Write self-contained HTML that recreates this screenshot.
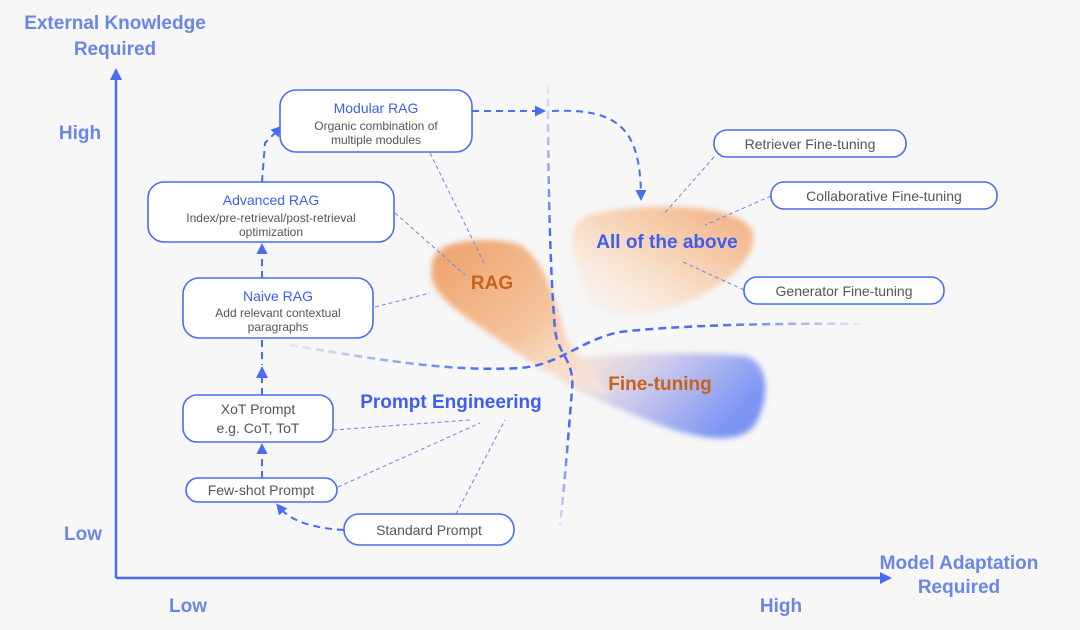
<!DOCTYPE html>
<html><head><meta charset="utf-8"><style>
html,body{margin:0;padding:0;background:#f7f7f8;}
svg{display:block;font-family:"Liberation Sans",sans-serif;}
</style></head><body>
<svg width="1080" height="630" viewBox="0 0 1080 630" xmlns="http://www.w3.org/2000/svg">
<defs>
<filter id="blur" x="-20%" y="-20%" width="140%" height="140%"><feGaussianBlur stdDeviation="3"/></filter>
<linearGradient id="rag" x1="0" y1="0" x2="1" y2="1">
<stop offset="0" stop-color="#eea06a"/><stop offset="0.55" stop-color="#f5c49c"/><stop offset="1" stop-color="#fbeee2" stop-opacity="0.6"/></linearGradient>
<linearGradient id="ft" x1="0" y1="0" x2="1" y2="0.4">
<stop offset="0" stop-color="#f7d9bd" stop-opacity="0.4"/><stop offset="0.5" stop-color="#c9c8ee"/><stop offset="1" stop-color="#7c95f3"/></linearGradient>
<linearGradient id="all" x1="1" y1="0" x2="0" y2="1">
<stop offset="0" stop-color="#f1ad7f"/><stop offset="0.5" stop-color="#f8d8bd"/><stop offset="1" stop-color="#fbf1e8" stop-opacity="0.3"/></linearGradient>
<linearGradient id="hfade" x1="0" y1="0" x2="1" y2="0">
<stop offset="0" stop-color="#4a6cf2" stop-opacity="0.1"/><stop offset="0.35" stop-color="#4a6cf2"/><stop offset="0.75" stop-color="#4a6cf2"/><stop offset="1" stop-color="#4a6cf2" stop-opacity="0.1"/></linearGradient>
<linearGradient id="vfade" x1="0" y1="0" x2="0" y2="1">
<stop offset="0" stop-color="#4a6cf2" stop-opacity="0.1"/><stop offset="0.35" stop-color="#4a6cf2"/><stop offset="0.8" stop-color="#4a6cf2"/><stop offset="1" stop-color="#4a6cf2" stop-opacity="0.15"/></linearGradient>
<marker id="ah" markerWidth="11" markerHeight="11" refX="5" refY="5.5" orient="auto" markerUnits="userSpaceOnUse"><path d="M0,0 L11,5.5 L0,11z" fill="#4a6cf2"/></marker>
</defs>

<!-- blobs -->
<g filter="url(#blur)">
<path d="M590,215 C650,200 740,205 752,230 C762,258 720,290 680,305 C630,320 590,320 585,290 C575,260 560,225 590,215z" fill="url(#all)"/>
<path d="M560,360 C620,352 700,352 745,356 C770,362 770,400 755,425 C740,445 700,440 660,425 C620,410 585,395 560,380z" fill="url(#ft)"/>
<path d="M440,250 C455,238 500,238 520,245 C545,260 555,300 565,335 C580,360 600,380 610,395 C590,395 550,375 520,355 C480,325 440,305 432,280 C430,265 433,256 440,250z" fill="url(#rag)"/>
</g>

<!-- big dashed curves -->
<path d="M290,345 C380,360 450,372 520,368 C560,365 580,340 620,332 C680,325 780,323 860,324" fill="none" stroke="url(#hfade)" stroke-width="2.5" stroke-dasharray="8,5"/>
<path d="M548,85 C548,180 550,270 555,330 C558,355 575,360 572,390 C568,440 565,480 560,525" fill="none" stroke="url(#vfade)" stroke-width="2.5" stroke-dasharray="8,5"/>

<!-- axes -->
<line x1="116" y1="78" x2="116" y2="578" stroke="#4a6cf2" stroke-width="2.5"/>
<path d="M110,80 L116,68 L122,80z" fill="#4a6cf2"/>
<line x1="116" y1="578" x2="882" y2="578" stroke="#4a6cf2" stroke-width="2.5"/>
<path d="M880,572 L892,578 L880,584z" fill="#4a6cf2"/>

<g fill="#6a86e8" font-size="19" font-weight="bold">
<text x="115" y="29" text-anchor="middle">External Knowledge</text>
<text x="115" y="55" text-anchor="middle">Required</text>
<text x="80" y="139" text-anchor="middle">High</text>
<text x="83" y="540" text-anchor="middle">Low</text>
<text x="188" y="612" text-anchor="middle">Low</text>
<text x="781" y="612" text-anchor="middle">High</text>
<text x="959" y="569" text-anchor="middle">Model Adaptation</text>
<text x="959" y="593" text-anchor="middle">Required</text>
</g>

<!-- thin dashed connectors -->
<g stroke="#6a86ee" stroke-width="1" stroke-dasharray="4,3" fill="none">
<line x1="430" y1="153" x2="485" y2="265"/>
<line x1="395" y1="213" x2="465" y2="275"/>
<line x1="375" y1="307" x2="430" y2="293"/>
<line x1="333" y1="430" x2="470" y2="420"/>
<line x1="338" y1="487" x2="480" y2="423"/>
<line x1="456" y1="514" x2="505" y2="420"/>
<line x1="714" y1="157" x2="663" y2="215"/>
<line x1="771" y1="196" x2="705" y2="225"/>
<line x1="744" y1="290" x2="683" y2="262"/>
</g>

<!-- flow arrows -->
<g stroke="#4a6cf2" stroke-width="2" stroke-dasharray="7,5" fill="none">
<path d="M472,111 L540,111" marker-end="url(#ah)"/>
<path d="M552,111 C620,108 640,130 641,195" marker-end="url(#ah)"/>
<path d="M262,182 L265,143 L278,130" marker-end="url(#ah)"/>
<path d="M262,278 L262,249" marker-end="url(#ah)"/>
<path d="M262,340 L262,365"/>
<path d="M262,376 L262,395"/>
<path d="M262,478 L262,449" marker-end="url(#ah)"/>
<path d="M344,530 C310,528 290,520 280,508" marker-end="url(#ah)"/>
</g>
<path d="M256,378 L262,366 L268,378z" fill="#4a6cf2"/>

<!-- boxes -->
<g fill="#fff" stroke="#4a6cf2" stroke-width="1.6">
<rect x="280" y="90" width="192" height="62" rx="16"/>
<rect x="148" y="182" width="246" height="60" rx="16"/>
<rect x="183" y="278" width="190" height="60" rx="16"/>
<rect x="183" y="395" width="150" height="47" rx="14"/>
<rect x="186" y="478" width="151" height="24" rx="12"/>
<rect x="344" y="514" width="170" height="31" rx="15"/>
<rect x="714" y="130" width="192" height="27" rx="13"/>
<rect x="771" y="182" width="226" height="27" rx="13"/>
<rect x="744" y="277" width="200" height="27" rx="13"/>
</g>

<g font-size="14" fill="#3d5ef0" text-anchor="middle">
<text x="376" y="113">Modular RAG</text>
<text x="271" y="205">Advanced RAG</text>
<text x="278" y="301">Naive RAG</text>
</g>
<g font-size="12" fill="#555" text-anchor="middle">
<text x="376" y="130">Organic combination of</text>
<text x="376" y="144">multiple modules</text>
<text x="271" y="222">Index/pre-retrieval/post-retrieval</text>
<text x="271" y="236">optimization</text>
<text x="278" y="317">Add relevant contextual</text>
<text x="278" y="331">paragraphs</text>
</g>
<g font-size="14" fill="#555" text-anchor="middle">
<text x="258" y="414">XoT Prompt</text>
<text x="258" y="433">e.g. CoT, ToT</text>
<text x="261" y="495">Few-shot Prompt</text>
<text x="429" y="535">Standard Prompt</text>
<text x="810" y="149">Retriever Fine-tuning</text>
<text x="884" y="201">Collaborative Fine-tuning</text>
<text x="844" y="296">Generator Fine-tuning</text>
</g>

<g font-size="19" font-weight="bold">
<text x="492" y="289" text-anchor="middle" fill="#c8611a">RAG</text>
<text x="667" y="248" text-anchor="middle" fill="#3d5ef0">All of the above</text>
<text x="660" y="390" text-anchor="middle" fill="#c8611a">Fine-tuning</text>
<text x="451" y="408" text-anchor="middle" fill="#3d5ef0">Prompt Engineering</text>
</g>
</svg>
</body></html>
